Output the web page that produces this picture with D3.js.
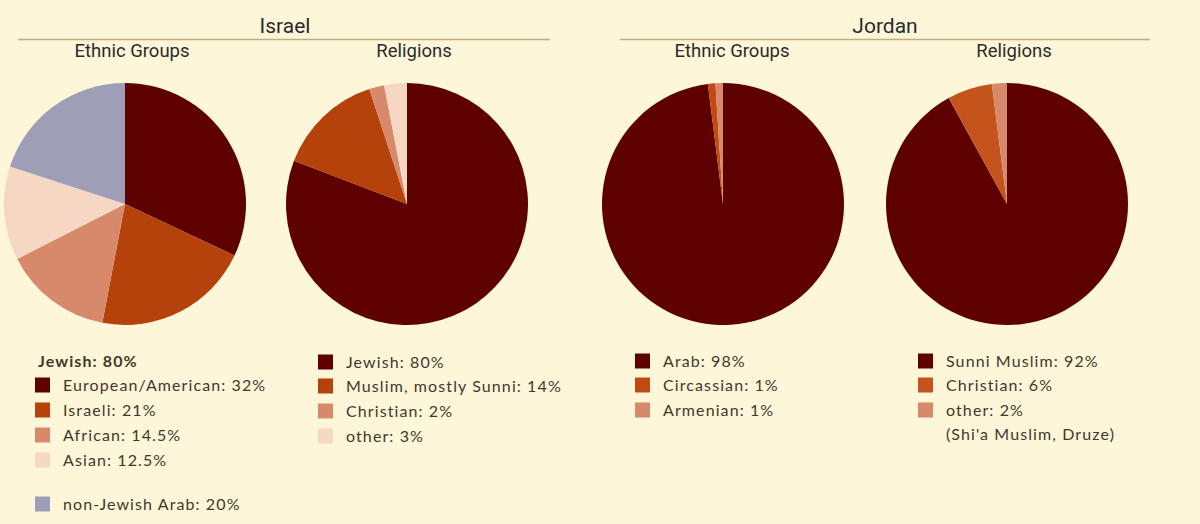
<!DOCTYPE html>
<html>
<head>
<meta charset="utf-8">
<script src="https://cdn.jsdelivr.net/npm/d3@7"></script>
<style>
  body { margin: 0; background: #fdf6d9; }
  svg { display: block; }
  .title { font-family: Roboto, sans-serif; font-size: 21px; fill: #2b2b2b; text-anchor: middle; }
  .subtitle { font-family: Roboto, sans-serif; font-size: 18.5px; fill: #2b2b2b; text-anchor: middle; }
  .legend text { font-family: Lato, sans-serif; font-size: 16px; letter-spacing: 1.1px; fill: #45362b; }
  .rule { stroke: #c2ad80; stroke-width: 1.5; }
</style>
</head>
<body>
<script>
// colours shared by all four pies
var colDark = "#5e0000",
    colOrange = "#b5410b",
    colSalmon = "#d68a6b",
    colLight = "#f6d7c3",
    colGray = "#9e9fb6";

// Israel - ethnic groups
var israelEthnicLabels = ["European/American: 32%", "Israeli: 21%", "African: 14.5%", "Asian: 12.5%", "non-Jewish Arab: 20%"];
var israelEthnicValues = [32, 21, 14.5, 12.5, 20];
var israelEthnicColors = [colDark, colOrange, colSalmon, colLight, colGray];

// Israel - religions
var israelReligionLabels = ["Jewish: 80%", "Muslim, mostly Sunni: 14%", "Christian: 2%", "other: 3%"];
var israelReligionValues = [80, 14, 2, 3];
var israelReligionColors = [colDark, colOrange, colSalmon, colLight];

// Jordan - ethnic groups
var jordanEthnicLabels = ["Arab: 98%", "Circassian: 1%", "Armenian: 1%"];
var jordanEthnicValues = [98, 1, 1];
var jordanEthnicColors = [colDark, "#c04a12", colSalmon];

// Jordan - religions
var jordanReligionLabels = ["Sunni Muslim: 92%", "Christian: 6%", "other: 2%"];
var jordanReligionValues = [92, 6, 2];
var jordanReligionColors = [colDark, "#c4531c", colSalmon];

var width = 1200, height = 524;

var svg = d3.select("body").append("svg")
    .attr("width", width)
    .attr("height", height);

// country headers with rule
function header(name, cx, x1, x2) {
    svg.append("text").attr("class", "title").attr("x", cx).attr("y", 33).text(name);
    svg.append("line").attr("class", "rule")
        .attr("x1", x1).attr("x2", x2).attr("y1", 39.5).attr("y2", 39.5);
}
header("Israel", 285, 18, 550);
header("Jordan", 885, 620, 1150);

var pie = d3.pie().sort(null);
var arc = d3.arc().innerRadius(0).outerRadius(121);

function drawPie(title, cx, titleX, values, colors) {
    svg.append("text").attr("class", "subtitle").attr("x", titleX).attr("y", 57).text(title);
    var g = svg.append("g").attr("transform", "translate(" + cx + ",204)");
    g.selectAll("path")
        .data(pie(values))
        .enter()
        .append("path")
        .attr("d", arc)
        .attr("fill", function (d, i) { return colors[i]; });
}

drawPie("Ethnic Groups", 125, 132, israelEthnicValues, israelEthnicColors);
drawPie("Religions", 407, 414, israelReligionValues, israelReligionColors);
drawPie("Ethnic Groups", 723, 732, jordanEthnicValues, jordanEthnicColors);
drawPie("Religions", 1007, 1014, jordanReligionValues, jordanReligionColors);

// legends
function legend(x, labels, colors, rowYs) {
    var g = svg.append("g").attr("class", "legend");
    var rows = g.selectAll("g")
        .data(labels)
        .enter()
        .append("g")
        .attr("transform", function (d, i) { return "translate(" + x + "," + rowYs[i] + ")"; });
    rows.append("rect")
        .attr("x", 0).attr("y", -7.5)
        .attr("width", 15).attr("height", 15)
        .attr("fill", function (d, i) { return colors[i]; });
    rows.append("text")
        .attr("x", 28).attr("y", 6)
        .text(function (d) { return d; });
    return g;
}

var lg = legend(35, israelEthnicLabels, israelEthnicColors, [385, 410, 435, 460, 504]);
lg.append("text").attr("x", 38).attr("y", 367).style("font-weight", "bold").text("Jewish: 80%");

legend(318, israelReligionLabels, israelReligionColors, [362, 386, 411, 436]);
legend(635, jordanEthnicLabels, jordanEthnicColors, [361, 385, 410]);
var jr = legend(918, jordanReligionLabels, jordanReligionColors, [361, 385, 410]);
jr.append("text").attr("x", 946).attr("y", 440).text("(Shi'a Muslim, Druze)");
</script>
</body>
</html>
